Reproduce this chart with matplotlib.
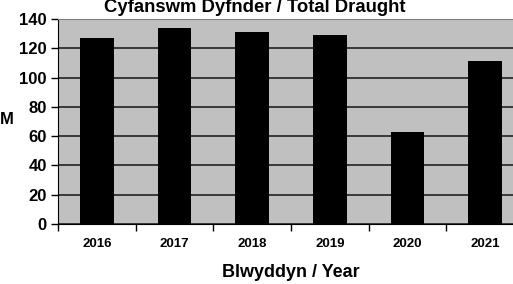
import numpy as np
import matplotlib
matplotlib.use("Agg")
import matplotlib.pyplot as plt

years = ["2016", "2017", "2018", "2019", "2020", "2021"]
draught = [127, 134, 131, 129, 63, 111]
y_ticks = [0, 20, 40, 60, 80, 100, 120, 140]

plt.rcParams["font.family"] = ["Liberation Sans", "DejaVu Sans"]
plt.rcParams["font.weight"] = "bold"

fig = plt.figure(figsize=(5.13, 2.84), dpi=100)
ax = fig.add_axes([58 / 513, 1 - 224 / 284, 466 / 513, 205 / 284])
ax.set_facecolor("#c0c0c0")

x = np.arange(len(years))
ax.bar(x, draught, width=0.43, color="black", zorder=3)

ax.set_xlim(-0.5, len(years) - 0.5)
ax.set_ylim(0, 140)
ax.set_yticks(y_ticks)
ax.set_yticklabels([str(v) for v in y_ticks], fontsize=12, fontweight="bold")
ax.yaxis.grid(True, color="#222222", linewidth=1.2, zorder=1)

# category labels at centres, tick marks between categories
ax.set_xticks(x)
ax.set_xticklabels(years, fontsize=9.5, fontweight="bold")
ax.tick_params(axis="x", length=0, pad=10)
ax.set_xticks(np.arange(-0.5, len(years)), minor=True)
ax.tick_params(axis="x", which="minor", length=5, width=1, direction="out")
ax.tick_params(axis="y", length=5, width=1, direction="out", pad=3)

ax.spines["right"].set_visible(False)
ax.spines["top"].set_color("#808080")
ax.spines["left"].set_color("black")
ax.spines["bottom"].set_color("black")

ax.set_xlabel("Blwyddyn / Year", fontsize=13, fontweight="bold", labelpad=10)
fig.text(0 / 513, 1 - 119 / 284, "M", fontsize=12, fontweight="bold",
         ha="left", va="center")
fig.text(255 / 513, 1 - 12.5 / 284, "Cyfanswm Dyfnder / Total Draught",
         fontsize=13.3, fontweight="bold", ha="center", va="baseline")

fig.savefig("out.png", dpi=100)
